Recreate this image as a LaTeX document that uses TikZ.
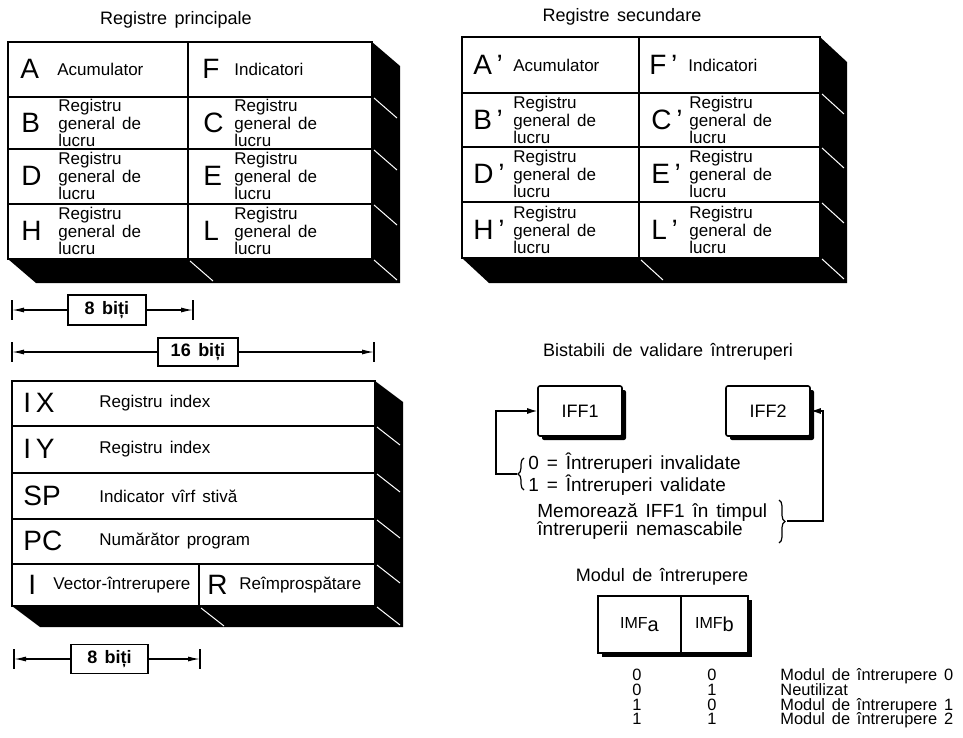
\documentclass[tikz,border=0pt]{standalone}
\usepackage{fontspec}
\setmainfont{Liberation Sans}[WordSpace=1.5]
\usetikzlibrary{arrows.meta, calc, shadows, decorations.pathreplacing}

% register block with black depth faces: {left}{top}{right}{bottom}{dx}{dy}
\newcommand{\regblock}[6]{%
  \fill[black] (#1,#4) -- (#3,#4) -- (#3,#2) -- (#3+#5,#2+#6) -- (#3+#5,#4+#6) -- (#1+#5,#4+#6) -- cycle;
  \draw[line width=0.8pt, fill=white] (#1,#2) rectangle (#3,#4);
}

\begin{document}
\begin{tikzpicture}[x=0.5pt, y=-0.5pt,
    reglet/.style={anchor=west, inner sep=0pt, font=\fontsize{14}{14}\selectfont},
    regtxt/.style={anchor=west, inner sep=0pt, align=left, font=\fontsize{8.5}{7.7}\selectfont},
    heading/.style={inner sep=0pt, font=\fontsize{9}{11}\selectfont},
    bitbox/.style={draw, line width=0.8pt, fill=white, inner sep=0pt, font=\bfseries\fontsize{9}{11}\selectfont},
    dimline/.style={line width=0.6pt, -{Latex[length=6pt, width=2.5pt]}},
    litedge/.style={white, line width=0.5pt},
    grid/.style={line width=0.8pt},
    ffbox/.style={draw, line width=0.8pt, fill=white, rounded corners=1pt, minimum width=42pt, minimum height=25pt,
        font=\fontsize{9}{11}\selectfont, drop shadow={shadow xshift=2pt, shadow yshift=-2pt, fill=black, opacity=1}},
    imfbox/.style={draw, line width=0.8pt, fill=white, inner sep=0pt, minimum height=28.5pt},
    flow/.style={line width=0.6pt, -{Latex[length=5pt, width=3pt]}},
    brc/.style={line width=0.6pt, decorate, decoration={brace, amplitude=3pt}},
    tabtxt/.style={inner sep=0pt, anchor=base, font=\fontsize{8.2}{10}\selectfont},
]
    \useasboundingbox (0,0) rectangle (963,738);
    \fill[white] (0,0) rectangle (963,738);

    % Registre principale
    \node[heading] (hPrinc) at (176,20) {Registre principale};
    \regblock{8}{42}{372}{259}{28}{24}
    \draw[grid] (188,42) -- (188,259);
    \foreach \y in {97,149,204} \draw[grid] (8,\y) -- (372,\y);
    \foreach \y in {97,149,204,259} \draw[litedge] (374,\y+1) -- ++(23,20);
    \draw[litedge] (190,261) -- ++(23,20);

    \node[reglet] (nA) at (20,69) {A};
    \node[regtxt] (tA) at (57,69) {Acumulator};
    \node[reglet] (nF) at (202,69) {F};
    \node[regtxt] (tF) at (234,69) {Indicatori};
    \foreach \n/\y in {B/123,D/176,H/231} {
        \node[reglet] (n\n) at (21,\y) {\n};
        \node[regtxt] (t\n) at (58,\y) {Registru\\general de\\lucru};
    }
    \foreach \n/\y in {C/123,E/176,L/231} {
        \node[reglet] (n\n) at (203,\y) {\n};
        \node[regtxt] (t\n) at (234,\y) {Registru\\general de\\lucru};
    }

    % Registre secundare
    \node[heading] (hSec) at (622,17) {Registre secundare};
    \regblock{462}{37}{820}{258}{27}{25}
    \draw[grid] (639,37) -- (639,258);
    \foreach \y in {93,147,202} \draw[grid] (462,\y) -- (820,\y);
    \foreach \y in {93,147,202,258} \draw[litedge] (822,\y+1) -- ++(22,20);
    \draw[litedge] (641,260) -- ++(22,20);

    \node[reglet] (nAp) at (473,65) {A\,'};
    \node[regtxt] (tAp) at (513,65) {Acumulator};
    \node[reglet] (nFp) at (649,65) {F\,'};
    \node[regtxt] (tFp) at (688,65) {Indicatori};
    \foreach \n/\y in {B/120,D/174,H/230} {
        \node[reglet] (n\n p) at (473,\y) {\n\,'};
        \node[regtxt] (t\n p) at (513,\y) {Registru\\general de\\lucru};
    }
    \foreach \n/\y in {C/120,E/174,L/230} {
        \node[reglet] (n\n p) at (651,\y) {\n\,'};
        \node[regtxt] (t\n p) at (689,\y) {Registru\\general de\\lucru};
    }

    % latimi
    \node[bitbox, minimum width=39pt, minimum height=15pt] (b8a) at (107,310) {8 biți};
    \coordinate (b8aL) at (12,310);
    \coordinate (b8aR) at (193,310);
    \draw[dimline] (b8a) -- (b8aL);
    \draw[dimline] (b8a) -- (b8aR);
    \node[bitbox, minimum width=40pt, minimum height=14pt] (b16) at (198,352) {16 biți};
    \coordinate (b16L) at (12,352);
    \coordinate (b16R) at (374,352);
    \draw[dimline] (b16) -- (b16L);
    \draw[dimline] (b16) -- (b16R);
    \node[bitbox, minimum width=38.5pt, minimum height=14.5pt] (b8b) at (109.5,659) {8 biți};
    \coordinate (b8bL) at (14,659);
    \coordinate (b8bR) at (200,659);
    \draw[dimline] (b8b) -- (b8bL);
    \draw[dimline] (b8b) -- (b8bR);
    \foreach \c in {b8aL,b8aR,b16L,b16R,b8bL,b8bR}
        \draw[line width=0.6pt] ($(\c)+(0,-10)$) -- ($(\c)+(0,10)$);

    % registre speciale
    \regblock{12}{381}{375}{606}{28}{21}
    \foreach \y in {426,473,519,564} \draw[grid] (12,\y) -- (375,\y);
    \draw[grid] (199,564) -- (199,606);
    \foreach \y in {426,473,519,564,606} \draw[litedge] (377,\y+1) -- ++(23,18);
    \draw[litedge] (201,608) -- ++(23,18);

    \node[reglet] (nIX) at (23,403) {I\,X};
    \node[regtxt] (tIX) at (99,403) {Registru index};
    \node[reglet] (nIY) at (23,449) {I\,Y};
    \node[regtxt] (tIY) at (99,449) {Registru index};
    \node[reglet] (nSP) at (23,496) {SP};
    \node[regtxt] (tSP) at (99,496) {Indicator vîrf stivă};
    \node[reglet] (nPC) at (23,541) {PC};
    \node[regtxt] (tPC) at (99,541) {Numărător program};
    \node[reglet] (nI) at (28,585) {I};
    \node[regtxt] (tI) at (53,585) {Vector-întrerupere};
    \node[reglet] (nR) at (207,585) {R};
    \node[regtxt] (tR) at (239,585) {Reîmprospătare};

    % Bistabili
    \node[heading] (hBist) at (668,352) {Bistabili de validare întreruperi};
    \node[ffbox] (iff1) at (580,411) {IFF1};
    \node[ffbox] (iff2) at (768,411) {IFF2};

    \node[regtxt, font=\fontsize{9.5}{9}\selectfont] (st1) at (528,474)
        {0 = Întreruperi  invalidate\\1 = Întreruperi  validate};
    \draw[brc] (524,490) -- (524,458);
    \coordinate (tipL) at (517,474);
    \coordinate (loopL) at (496,474);
    \draw[flow] (tipL) -- (loopL) |- (iff1.west);

    \node[regtxt, font=\fontsize{9.5}{9}\selectfont] (st2) at (537,521)
        {Memorează  IFF1  în  timpul\\întreruperii  nemascabile};
    \draw[brc] (779,500) -- (779,543);
    \coordinate (tipR) at (787,521);
    \coordinate (loopR) at (823,521);
    \draw[flow] (tipR) -- (loopR) |- (iff2.east);

    % Modul de intrerupere
    \node[heading] (hMod) at (662,577) {Modul de întrerupere};
    \fill[black] (602,600) rectangle (752,657);
    \node[imfbox, minimum width=41.5pt] (imfa) at (639.5,624.5)
        {{\fontsize{8}{10}\selectfont IMF}\raisebox{-1.5pt}{a}};
    \node[imfbox, minimum width=33.5pt] (imfb) at (714.5,624.5)
        {{\fontsize{8}{10}\selectfont IMF}\raisebox{-1.5pt}{b}};
    \foreach \a/\b/\t [count=\i] in {0/0/Modul de întrerupere 0, 0/1/Neutilizat,
            1/0/Modul de întrerupere 1, 1/1/Modul de întrerupere 2} {
        \node[tabtxt] (ca\i) at (637,666+14.7*\i) {\a};
        \node[tabtxt] (cb\i) at (712,666+14.7*\i) {\b};
        \node[tabtxt, anchor=base west] (md\i) at (780,666+14.7*\i) {\t};
    }
\end{tikzpicture}
\end{document}
